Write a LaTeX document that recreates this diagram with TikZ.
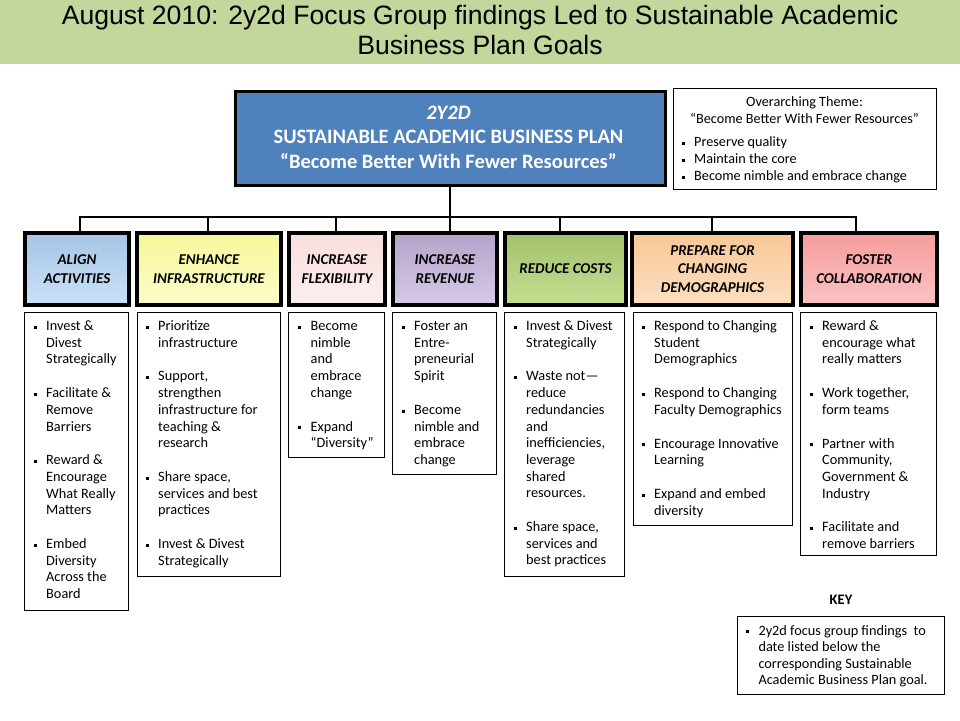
\documentclass[tikz,border=0pt]{standalone}
\usepackage{fontspec}
\setmainfont{Carlito}
\newfontfamily\titlefont{Liberation Sans}
\usetikzlibrary{shadows}
\definecolor{titlegreen}{HTML}{C3D69B}
\definecolor{mainblue}{HTML}{4F81BD}
\definecolor{ga}{HTML}{A7C4E6}\definecolor{gal}{HTML}{CBE2F7}
\definecolor{gb}{HTML}{F7F79B}\definecolor{gbl}{HTML}{FCFCCB}
\definecolor{gc}{HTML}{F7DEDD}\definecolor{gcl}{HTML}{FDEFEE}
\definecolor{gd}{HTML}{B4A3C9}\definecolor{gdl}{HTML}{D6CAE8}
\definecolor{ge}{HTML}{A3C16B}\definecolor{gel}{HTML}{C6DF93}
\definecolor{gf}{HTML}{F9C797}\definecolor{gfl}{HTML}{FDDFC0}
\definecolor{gg}{HTML}{F69C9C}\definecolor{ggl}{HTML}{FBC3C3}
\newcommand\sqb{\rule[1.8pt]{3pt}{3pt}}
\newcommand\bul{\llap{\sqb\hspace{9.5pt}}}
\newcommand\pgap{\\[17pt]}
\newcommand\blist[1]{\begin{tabular}[t]{@{}l@{}}#1\end{tabular}}
\newcommand\clist[1]{\begin{tabular}[t]{@{}c@{}}#1\end{tabular}}
\tikzset{
  mainbox/.style={draw=black, line width=3pt, fill=mainblue, anchor=north west, inner sep=0pt,
    drop shadow={shadow xshift=1.5pt, shadow yshift=-1.5pt, opacity=0.3}},
  maintxt/.style={anchor=base, inner sep=0pt, text=white, font=\fontsize{20.5}{24.7}\selectfont\bfseries},
  goalbox/.style n args={2}{draw=black, line width=4pt, anchor=north west, minimum height=72pt,
    inner sep=0pt, align=center, text=black, top color=#1, middle color=#1, bottom color=#2,
    font=\fontsize{15}{18.7}\selectfont\bfseries\itshape,
    drop shadow={shadow xshift=1.5pt, shadow yshift=-1.5pt, opacity=0.35}},
  listbox/.style={draw=black, line width=1pt, anchor=north west, inner sep=0pt, fill=white},
  lst/.style={anchor=base west, inner sep=0pt, text=black, font=\fontsize{14.3}{16.7}\selectfont},
  conn/.style={draw=black, line width=2pt, line join=miter},
}
\begin{document}
\begin{tikzpicture}[x=1pt,y=-1pt]
\useasboundingbox (0,0) rectangle (960,720);
\fill[white] (0,0) rectangle (960,720);
\fill[titlegreen] (0,0) rectangle (960,63.5);
\node[anchor=base, inner sep=0pt, text=black, font=\titlefont\fontsize{26.6}{30}\selectfont] (title) at (480,24.5)
  {\clist{August 2010: 2y2d Focus Group findings Led to Sustainable Academic\\Business Plan Goals}};

% main box
\node[mainbox, minimum width=430pt, minimum height=94pt] (main) at (233.5,89.5) {};
\node[maintxt] (maintext) at (448.5,119)
  {\clist{\textit{2Y2D}\\SUSTAINABLE ACADEMIC BUSINESS PLAN\\“Become Better With Fewer Resources”}};

% theme box
\node[listbox, minimum width=263pt, minimum height=101pt] (theme) at (673,88) {};
\node[anchor=base, inner sep=0pt, text=black, font=\fontsize{14.2}{17}\selectfont] (themehead) at (804.5,106.5)
  {\clist{Overarching Theme:\\“Become Better With Fewer Resources”}};
\node[lst, font=\fontsize{14.2}{17}\selectfont] (themelist) at (694,146.5)
  {\blist{\bul Preserve quality\\ \bul Maintain the core\\ \bul Become nimble and embrace change}};

% goal boxes
\node[goalbox={ga}{gal}, minimum width=104pt] (g1) at (23,231) {ALIGN\\ACTIVITIES};
\node[goalbox={gb}{gbl}, minimum width=144pt] (g2) at (135,231) {ENHANCE\\INFRASTRUCTURE};
\node[goalbox={gc}{gcl}, minimum width=96pt] (g3) at (287,231) {INCREASE\\FLEXIBILITY};
\node[goalbox={gd}{gdl}, minimum width=104pt] (g4) at (391,231) {INCREASE\\REVENUE};
\node[goalbox={ge}{gel}, minimum width=121pt] (g5) at (503,231) {REDUCE COSTS};
\node[goalbox={gf}{gfl}, minimum width=161pt] (g6) at (630,231) {PREPARE FOR\\CHANGING\\DEMOGRAPHICS};
\node[goalbox={gg}{ggl}, minimum width=136pt] (g7) at (799,231) {FOSTER\\COLLABORATION};

% connectors
\coordinate (bus) at (448.5,216.5);
\coordinate (d1) at (80,216.5);
\coordinate (d2) at (208,216.5);
\coordinate (d3) at (336,216.5);
\coordinate (d5) at (560,216.5);
\coordinate (d6) at (712,216.5);
\coordinate (d7) at (856,216.5);
\draw[conn] (main.south) -- (main.south |- bus) -- (main.south |- g4.north);
\draw[conn] (d1 |- g1.north) -- (d1) -- (d7) -- (d7 |- g7.north);
\draw[conn] (d2) -- (d2 |- g2.north);
\draw[conn] (d3) -- (d3 |- g3.north);
\draw[conn] (d5) -- (d5 |- g5.north);
\draw[conn] (d6) -- (d6 |- g6.north);

% list boxes
\node[listbox, minimum width=104pt, minimum height=298pt] (l1) at (24,312) {};
\node[listbox, minimum width=143pt, minimum height=264pt] (l2) at (137,312) {};
\node[listbox, minimum width=96pt, minimum height=145pt] (l3) at (288,312) {};
\node[listbox, minimum width=104pt, minimum height=162pt] (l4) at (392,312) {};
\node[listbox, minimum width=120pt, minimum height=264pt] (l5) at (504,312) {};
\node[listbox, minimum width=159pt, minimum height=213pt] (l6) at (633,312) {};
\node[listbox, minimum width=136pt, minimum height=243pt] (l7) at (800,312) {};

\node[lst] (t1) at (46,330.5) {\blist{\bul Invest \&\\Divest\\Strategically\pgap
  \bul Facilitate \&\\Remove\\Barriers\pgap
  \bul Reward \&\\Encourage\\What Really\\Matters\pgap
  \bul Embed\\Diversity\\Across the\\Board}};
\node[lst] (t2) at (158,330.5) {\blist{\bul Prioritize\\infrastructure\pgap
  \bul Support,\\strengthen\\infrastructure for\\teaching \&\\research\pgap
  \bul Share space,\\services and best\\practices\pgap
  \bul Invest \& Divest\\Strategically}};
\node[lst] (t3) at (310.5,330.5) {\blist{\bul Become\\nimble\\and\\embrace\\change\pgap
  \bul Expand\\“Diversity”}};
\node[lst] (t4) at (414,330.5) {\blist{\bul Foster an\\Entre-\\preneurial\\Spirit\pgap
  \bul Become\\nimble and\\embrace\\change}};
\node[lst] (t5) at (526,330.5) {\blist{\bul Invest \& Divest\\Strategically\pgap
  \bul Waste not—\\reduce\\redundancies\\and\\inefficiencies,\\leverage\\shared\\resources.\pgap
  \bul Share space,\\services and\\best practices}};
\node[lst] (t6) at (654,330.5) {\blist{\bul Respond to Changing\\Student\\Demographics\pgap
  \bul Respond to Changing\\Faculty Demographics\pgap
  \bul Encourage Innovative\\Learning\pgap
  \bul Expand and embed\\diversity}};
\node[lst] (t7) at (822,330.5) {\blist{\bul Reward \&\\encourage what\\really matters\pgap
  \bul Work together,\\form teams\pgap
  \bul Partner with\\Community,\\Government \&\\Industry\pgap
  \bul Facilitate and\\remove barriers}};

% key
\node[anchor=base, inner sep=0pt, text=black, font=\fontsize{14.5}{17}\selectfont\bfseries] (keytitle) at (841,604) {KEY};
\node[listbox, minimum width=207pt, minimum height=78pt] (keybox) at (737,616) {};
\node[lst, font=\fontsize{14.3}{16.5}\selectfont] (keytext) at (758.3,635)
  {\blist{\bul 2y2d focus group findings \ to\\date listed below the\\corresponding Sustainable\\Academic Business Plan goal.}};
\end{tikzpicture}
\end{document}
